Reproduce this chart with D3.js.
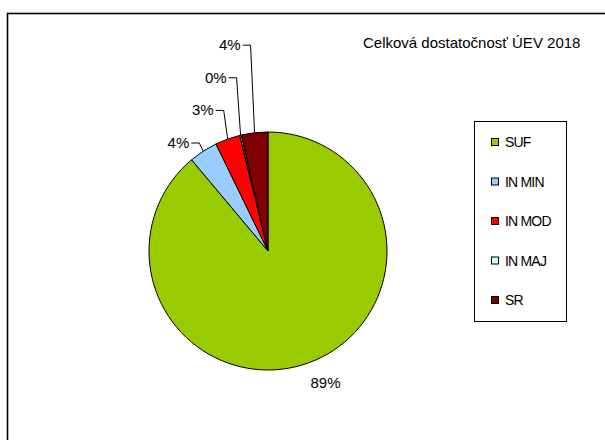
<!DOCTYPE html>
<html>
<head>
<meta charset="utf-8">
<script src="https://cdn.jsdelivr.net/npm/d3@7"></script>
<style>
  body { margin: 0; background: #fff; }
  text { font-family: "Liberation Sans", Arial, sans-serif; fill: #000; }
</style>
</head>
<body>
<svg id="chart" width="605" height="440"></svg>
<script>
// data
var categories = ["SUF", "IN MIN", "IN MOD", "IN MAJ", "SR"];
var shares = [88.9, 3.9, 3.4, 0.2, 3.6];
var colors = ["#99cc00", "#99ccff", "#ff0000", "#ccffff", "#800000"];
var title = "Celková dostatočnosť ÚEV 2018";

var svg = d3.select("#chart");
var cx = 268, cy = 251, radius = 119;

// outer frame (runs off the right and bottom edge)
svg.append("rect")
  .attr("x", 7.5).attr("y", 13.5)
  .attr("width", 620).attr("height", 460)
  .attr("fill", "none").attr("stroke", "#000").attr("stroke-width", 1.6);

svg.append("text")
  .attr("x", 363).attr("y", 48)
  .style("font-size", "15px")
  .text(title);

var data = categories.map(function (c, i) {
  return { name: c, value: shares[i], color: colors[i] };
});

var pie = d3.pie().sort(null).value(function (d) { return d.value; });
var arc = d3.arc().innerRadius(0).outerRadius(radius);
var arcs = pie(data);

var g = svg.append("g").attr("transform", "translate(" + cx + "," + cy + ")");

g.selectAll("path.slice")
  .data(arcs)
  .enter()
  .append("path")
  .attr("class", "slice")
  .attr("d", arc)
  .attr("fill", function (d) { return d.data.color; })
  .attr("stroke", "#000")
  .attr("stroke-width", 1);

function pct(d) { return Math.round(d.data.value) + "%"; }
function edgePoint(d, r) {
  var a = (d.startAngle + d.endAngle) / 2;
  return [Math.sin(a) * r, -Math.cos(a) * r];
}

// big slice: label just outside the arc
var big = arcs[0];
var bp = edgePoint(big, radius + 20);
g.append("text")
  .attr("x", bp[0] - 5).attr("y", bp[1] + 6)
  .style("font-size", "15px")
  .text(pct(big));

// small slices: stacked labels above, with leader lines
var small = arcs.slice(1);
small.forEach(function (d, i) {
  var p = edgePoint(d, radius);
  var ly = -108 - i * 32.6;
  var elbowX = p[0] - 4;
  var textX = elbowX - 10;
  g.append("path")
    .attr("d", "M" + p[0] + "," + p[1] + "L" + elbowX + "," + Math.min(ly, p[1] - 4) + "L" + (textX + 2) + "," + ly)
    .attr("fill", "none")
    .attr("stroke", "#000")
    .attr("stroke-width", 1);
  g.append("text")
    .attr("x", textX).attr("y", ly + 5)
    .attr("text-anchor", "end")
    .style("font-size", "15px")
    .text(pct(d));
});

// legend
var legend = svg.append("g").attr("transform", "translate(474,121)");
legend.append("rect")
  .attr("x", 0.5).attr("y", 0.5)
  .attr("width", 92).attr("height", 200)
  .attr("fill", "#fff").attr("stroke", "#000").attr("stroke-width", 1);

var items = legend.selectAll("g.item")
  .data(data)
  .enter()
  .append("g")
  .attr("class", "item")
  .attr("transform", function (d, i) { return "translate(0," + (21 + i * 39.5) + ")"; });

items.append("rect")
  .attr("x", 17.5).attr("y", -3.5)
  .attr("width", 7).attr("height", 7)
  .attr("fill", function (d) { return d.color; })
  .attr("stroke", "#000").attr("stroke-width", 1);

items.append("text")
  .attr("x", 31).attr("y", 5)
  .style("font-size", "14px")
  .style("letter-spacing", "-0.8px")
  .text(function (d) { return d.name; });
</script>
</body>
</html>
